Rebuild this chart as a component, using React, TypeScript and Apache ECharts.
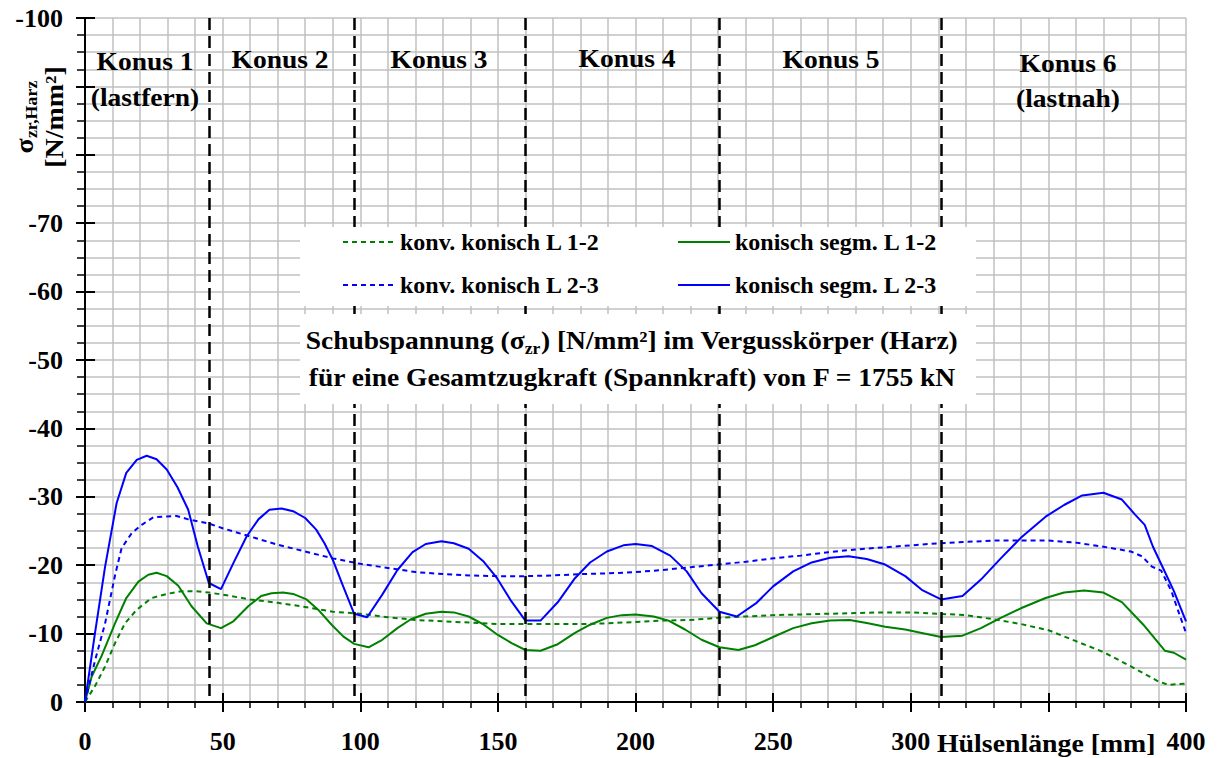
import React, { useEffect, useRef } from 'react';
import * as echarts from 'echarts';

const FONT = '"Liberation Serif", "Times New Roman", serif';

// konv. konisch L 1-2 (dotted green)
const konvL12X = [0, 3.6, 7.3, 10.9, 14.5, 18.8, 24.2, 29.7, 35, 40, 45, 50, 60, 70, 80, 90, 100, 110, 120, 130, 140, 150, 160, 170, 180, 190, 200, 210, 220, 230, 240, 250, 260, 270, 280, 290, 300, 310, 320, 330, 340, 350, 360, 370, 380, 390, 393.6, 400];
const konvL12Y = [0, -2.3, -5.2, -8.6, -11.5, -13.5, -15.2, -15.8, -16.2, -16.2, -16.0, -15.7, -15.0, -14.5, -13.9, -13.2, -12.9, -12.4, -12.0, -11.8, -11.6, -11.4, -11.4, -11.4, -11.4, -11.5, -11.7, -11.9, -12.0, -12.3, -12.5, -12.7, -12.8, -12.9, -13.0, -13.1, -13.1, -12.9, -12.7, -12.1, -11.4, -10.5, -8.9, -7.3, -5.2, -3.0, -2.5, -2.7];

// konisch segm. L 1-2 (solid green)
const segmL12X = [0, 2.4, 6, 10.9, 15, 19.4, 23, 26, 29.7, 33.9, 38.7, 44.2, 49.4, 53.9, 59.3, 64, 67.8, 72, 75.6, 80.5, 84.7, 89.6, 93.8, 97.8, 103, 108, 113.5, 118.4, 123.8, 129.5, 134, 139.4, 144.9, 150, 155, 160, 165.5, 171.5, 178, 183.5, 189.6, 195, 200, 206.6, 212, 218, 224, 230.5, 237.4, 243.4, 250, 257.3, 264, 270.7, 277.8, 284.5, 290.7, 298, 304, 311, 318.8, 325.5, 332.7, 340, 349, 355.7, 363, 370, 376.7, 384.5, 392.3, 395.6, 400];
const segmL12Y = [0, -3.7, -6.7, -11.5, -15.2, -17.6, -18.6, -18.9, -18.4, -17.0, -14.0, -11.5, -10.8, -11.8, -14.0, -15.5, -15.9, -16.0, -15.8, -15.0, -13.5, -11.3, -9.6, -8.5, -8.0, -9.1, -10.8, -12.1, -12.9, -13.2, -13.1, -12.5, -11.3, -9.8, -8.6, -7.6, -7.5, -8.4, -10.1, -11.3, -12.3, -12.7, -12.8, -12.5, -11.9, -10.6, -9.1, -8.0, -7.6, -8.3, -9.5, -10.8, -11.5, -11.9, -12.0, -11.5, -11.0, -10.6, -10.1, -9.5, -9.7, -10.8, -12.3, -13.7, -15.2, -16.0, -16.3, -16.0, -14.6, -11.3, -7.5, -7.2, -6.2];

// konv. konisch L 2-3 (dotted blue)
const konvL23X = [0, 3.6, 7.3, 10.9, 13.3, 17, 20.6, 24.8, 29, 33.3, 37.5, 45, 50, 60, 70, 80, 90, 100, 110, 120, 130, 140, 150, 160, 170, 180, 190, 200, 210, 220, 230, 240, 250, 260, 270, 280, 290, 300, 310, 320, 330, 340, 350, 360, 370, 380, 384, 387.6, 391, 394.7, 397, 400];
const konvL23Y = [0, -6.0, -11.5, -18.5, -22.5, -24.7, -25.9, -27.0, -27.1, -27.2, -26.7, -26.1, -25.4, -24.2, -23.0, -22.0, -21.0, -20.2, -19.6, -19.0, -18.7, -18.5, -18.4, -18.4, -18.5, -18.7, -18.8, -19.0, -19.3, -19.7, -20.1, -20.5, -21.0, -21.4, -21.9, -22.3, -22.6, -22.9, -23.2, -23.4, -23.6, -23.6, -23.6, -23.3, -22.7, -22.0, -21.3, -19.8, -19.2, -16.2, -13.5, -10.1];

// konisch segm. L 2-3 (solid blue)
const segmL23X = [0, 3.6, 7.3, 11.5, 15, 18.8, 22.4, 26, 29.7, 33.6, 37.5, 41, 45, 49.4, 53.9, 58.7, 63, 67, 71.4, 75.6, 80, 84, 87, 90, 93.8, 97.8, 102.5, 108, 113.5, 119, 123.8, 129.5, 134, 139.4, 144.9, 149.7, 154.6, 160, 165.5, 172, 178, 183.5, 189.6, 195.6, 200, 206, 212.6, 218.6, 224, 230.5, 236.8, 244, 250, 257.3, 264, 270.7, 277.4, 284, 290.7, 298, 304, 311, 318.8, 325.5, 332.7, 340, 349, 355.7, 362.3, 370, 376.7, 381.5, 385, 388, 392, 395.6, 400];
const segmL23Y = [0, -10.0, -19.8, -29.1, -33.5, -35.4, -36.0, -35.5, -34.0, -31.4, -28.1, -22.7, -17.4, -16.5, -20.3, -24.2, -26.7, -28.1, -28.3, -27.9, -26.9, -25.2, -23.2, -20.8, -16.9, -12.9, -12.4, -15.7, -19.3, -21.9, -23.1, -23.5, -23.2, -22.4, -20.5, -18.1, -14.9, -11.9, -11.9, -14.7, -18.1, -20.4, -22.0, -22.9, -23.1, -22.8, -21.4, -19.1, -15.9, -13.2, -12.5, -14.5, -16.9, -19.1, -20.4, -21.1, -21.3, -20.9, -20.1, -18.4, -16.4, -15.0, -15.5, -17.9, -21.0, -24.0, -27.1, -28.8, -30.2, -30.6, -29.6, -27.4, -25.9, -22.7, -19.3, -16.2, -11.8];

// Konus boundaries (mm)
const konusBounds = [45, 98, 160, 230.5, 311];

const seriesNames = ['konv. konisch L 1-2', 'konisch segm. L 1-2', 'konv. konisch L 2-3', 'konisch segm. L 2-3'];

const zip = (xs: number[], ys: number[]) => xs.map((x, i) => [x, ys[i]]);

const GREEN = '#008000';
const BLUE = '#0000ff';
const DOT: number[] = [5, 4];

export default function App() {
  const ref = useRef<HTMLDivElement>(null);
  useEffect(() => {
    const chart = echarts.init(ref.current!, null, { renderer: 'svg' });
    const bold = { fontFamily: FONT, fontWeight: 'bold' as const, color: '#000' };
    const hiddenAxis = {
      type: 'value' as const, min: 0, max: 400, position: 'bottom' as const,
      axisLine: { show: false }, axisLabel: { show: false }, splitLine: { show: false },
    };
    const hiddenYAxis = {
      type: 'value' as const, min: -100, max: 0, inverse: true, position: 'left' as const,
      axisLine: { show: false }, axisLabel: { show: false }, splitLine: { show: false },
    };
    const legendBase = {
      orient: 'horizontal' as const, padding: 0, itemWidth: 52, itemHeight: 14, itemGap: 4,
      selectedMode: false, z: 20,
      itemStyle: { opacity: 0 },
      textStyle: { fontFamily: FONT, fontWeight: 'bold' as const, fontSize: 24, color: '#000' },
    };
    const line = (name: string, data: number[][], color: string, dash: any) => ({
      name, type: 'line' as const, data, symbol: 'none', showSymbol: false,
      xAxisIndex: 0, yAxisIndex: 0, z: 3,
      lineStyle: { color, width: 2, type: dash }, itemStyle: { color },
    });
    const s0: any = line(seriesNames[0], zip(konvL12X, konvL12Y), GREEN, DOT);
    s0.markLine = {
      silent: true, symbol: ['none', 'none'], label: { show: false },
      lineStyle: { color: '#000', width: 2.5, type: [12, 6] },
      data: konusBounds.map((x) => ({ xAxis: x })),
    };
    const subRich = { sub: { fontSize: 16, fontWeight: 'bold', fontFamily: FONT, verticalAlign: 'bottom', lineHeight: 17 } };
    const option: any = {
      animation: false,
      grid: { left: 85, right: 32, top: 18, bottom: 56, containLabel: false },
      xAxis: [
        {
          type: 'value', min: 0, max: 400, interval: 10, position: 'bottom',
          axisLine: { onZero: false, lineStyle: { color: '#000', width: 2 } },
          axisTick: { length: 6, lineStyle: { color: '#000', width: 1.5 } },
          axisLabel: {
            ...bold, fontSize: 26, margin: 26,
            formatter: (v: number) => (v % 50 === 0 && v !== 350 ? String(v) : ''),
          },
          splitLine: { show: true, lineStyle: { color: '#c0c0c0', width: 1.5 } },
        },
        { ...hiddenAxis, interval: 50, axisTick: { length: 10, lineStyle: { color: '#000', width: 2 } } },
        { ...hiddenAxis, interval: 50, axisTick: { inside: true, length: 9, lineStyle: { color: '#000', width: 2 } } },
      ],
      yAxis: [
        {
          type: 'value', min: -100, max: 0, interval: 2.5, inverse: true, position: 'left',
          axisLine: { onZero: false, lineStyle: { color: '#000', width: 2 } },
          axisTick: { length: 8, lineStyle: { color: '#000', width: 1.5 } },
          axisLabel: {
            ...bold, fontSize: 26, margin: 22,
            formatter: (v: number) => {
              const r = Math.round(v);
              if (Math.abs(v - r) > 1e-6 || r % 10 !== 0 || r === -90 || r === -80) return '';
              return String(r);
            },
          },
          splitLine: { show: true, lineStyle: { color: '#c0c0c0', width: 1.5 } },
        },
        { ...hiddenYAxis, interval: 10, axisTick: { length: 9, lineStyle: { color: '#000', width: 2 } } },
        { ...hiddenYAxis, interval: 10, axisTick: { inside: true, length: 10, lineStyle: { color: '#000', width: 2 } } },
      ],
      legend: [
        { ...legendBase, data: [seriesNames[0]], left: 342, top: 230 },
        { ...legendBase, data: [seriesNames[1]], left: 677, top: 230 },
        { ...legendBase, data: [seriesNames[2]], left: 342, top: 273 },
        { ...legendBase, data: [seriesNames[3]], left: 677, top: 273 },
      ],
      series: [
        s0,
        line(seriesNames[1], zip(segmL12X, segmL12Y), GREEN, 'solid'),
        line(seriesNames[2], zip(konvL23X, konvL23Y), BLUE, DOT),
        line(seriesNames[3], zip(segmL23X, segmL23Y), BLUE, 'solid'),
      ],
      graphic: [
        { type: 'rect', z: 10, shape: { x: 300, y: 227, width: 676, height: 79 }, style: { fill: '#fff' } },
        { type: 'rect', z: 10, shape: { x: 300, y: 314, width: 676, height: 90 }, style: { fill: '#fff' } },
        ...[
          ['Konus 1', 145, 62], ['(lastfern)', 145, 98], ['Konus 2', 280, 60], ['Konus 3', 439, 60],
          ['Konus 4', 627, 59], ['Konus 5', 831, 60], ['Konus 6', 1068, 64], ['(lastnah)', 1068, 99],
        ].map(([t, x, y]) => ({
          type: 'text', z: 30, x, y, scaleX: 1.1,
          style: { text: t, fill: '#000', font: `bold 25px ${FONT}`, textAlign: 'center', textVerticalAlign: 'middle' },
        })),
        {
          type: 'text', z: 30, x: 632, y: 341, scaleX: 1.1,
          style: {
            text: 'Schubspannung (σ{sub|zr}) [N/mm²] im Vergusskörper (Harz)',
            fill: '#000', font: `bold 25px ${FONT}`, textAlign: 'center', textVerticalAlign: 'middle', lineHeight: 32,
            rich: subRich,
          },
        },
        {
          type: 'text', z: 30, x: 632, y: 378, scaleX: 1.1,
          style: {
            text: 'für eine Gesamtzugkraft (Spannkraft) von F = 1755 kN',
            fill: '#000', font: `bold 25px ${FONT}`, textAlign: 'center', textVerticalAlign: 'middle',
          },
        },
        {
          type: 'text', z: 30, x: 937, y: 743, scaleX: 1.07,
          style: { text: 'Hülsenlänge [mm]', fill: '#000', font: `bold 26px ${FONT}`, textAlign: 'left', textVerticalAlign: 'middle' },
        },
        {
          type: 'text', z: 30, x: 40, y: 117, rotation: Math.PI / 2, scaleX: 1.12,
          style: {
            text: 'σ{sub|zr,Harz}\n[N/mm²]', fill: '#000', font: `bold 25px ${FONT}`,
            textAlign: 'center', textVerticalAlign: 'middle', lineHeight: 30,
            rich: subRich,
          },
        },
      ],
    };
    chart.setOption(option);
    return () => chart.dispose();
  }, []);
  return <div ref={ref} style={{ position: 'absolute', left: 0, top: 0, width: 1218, height: 758 }} />;
}
